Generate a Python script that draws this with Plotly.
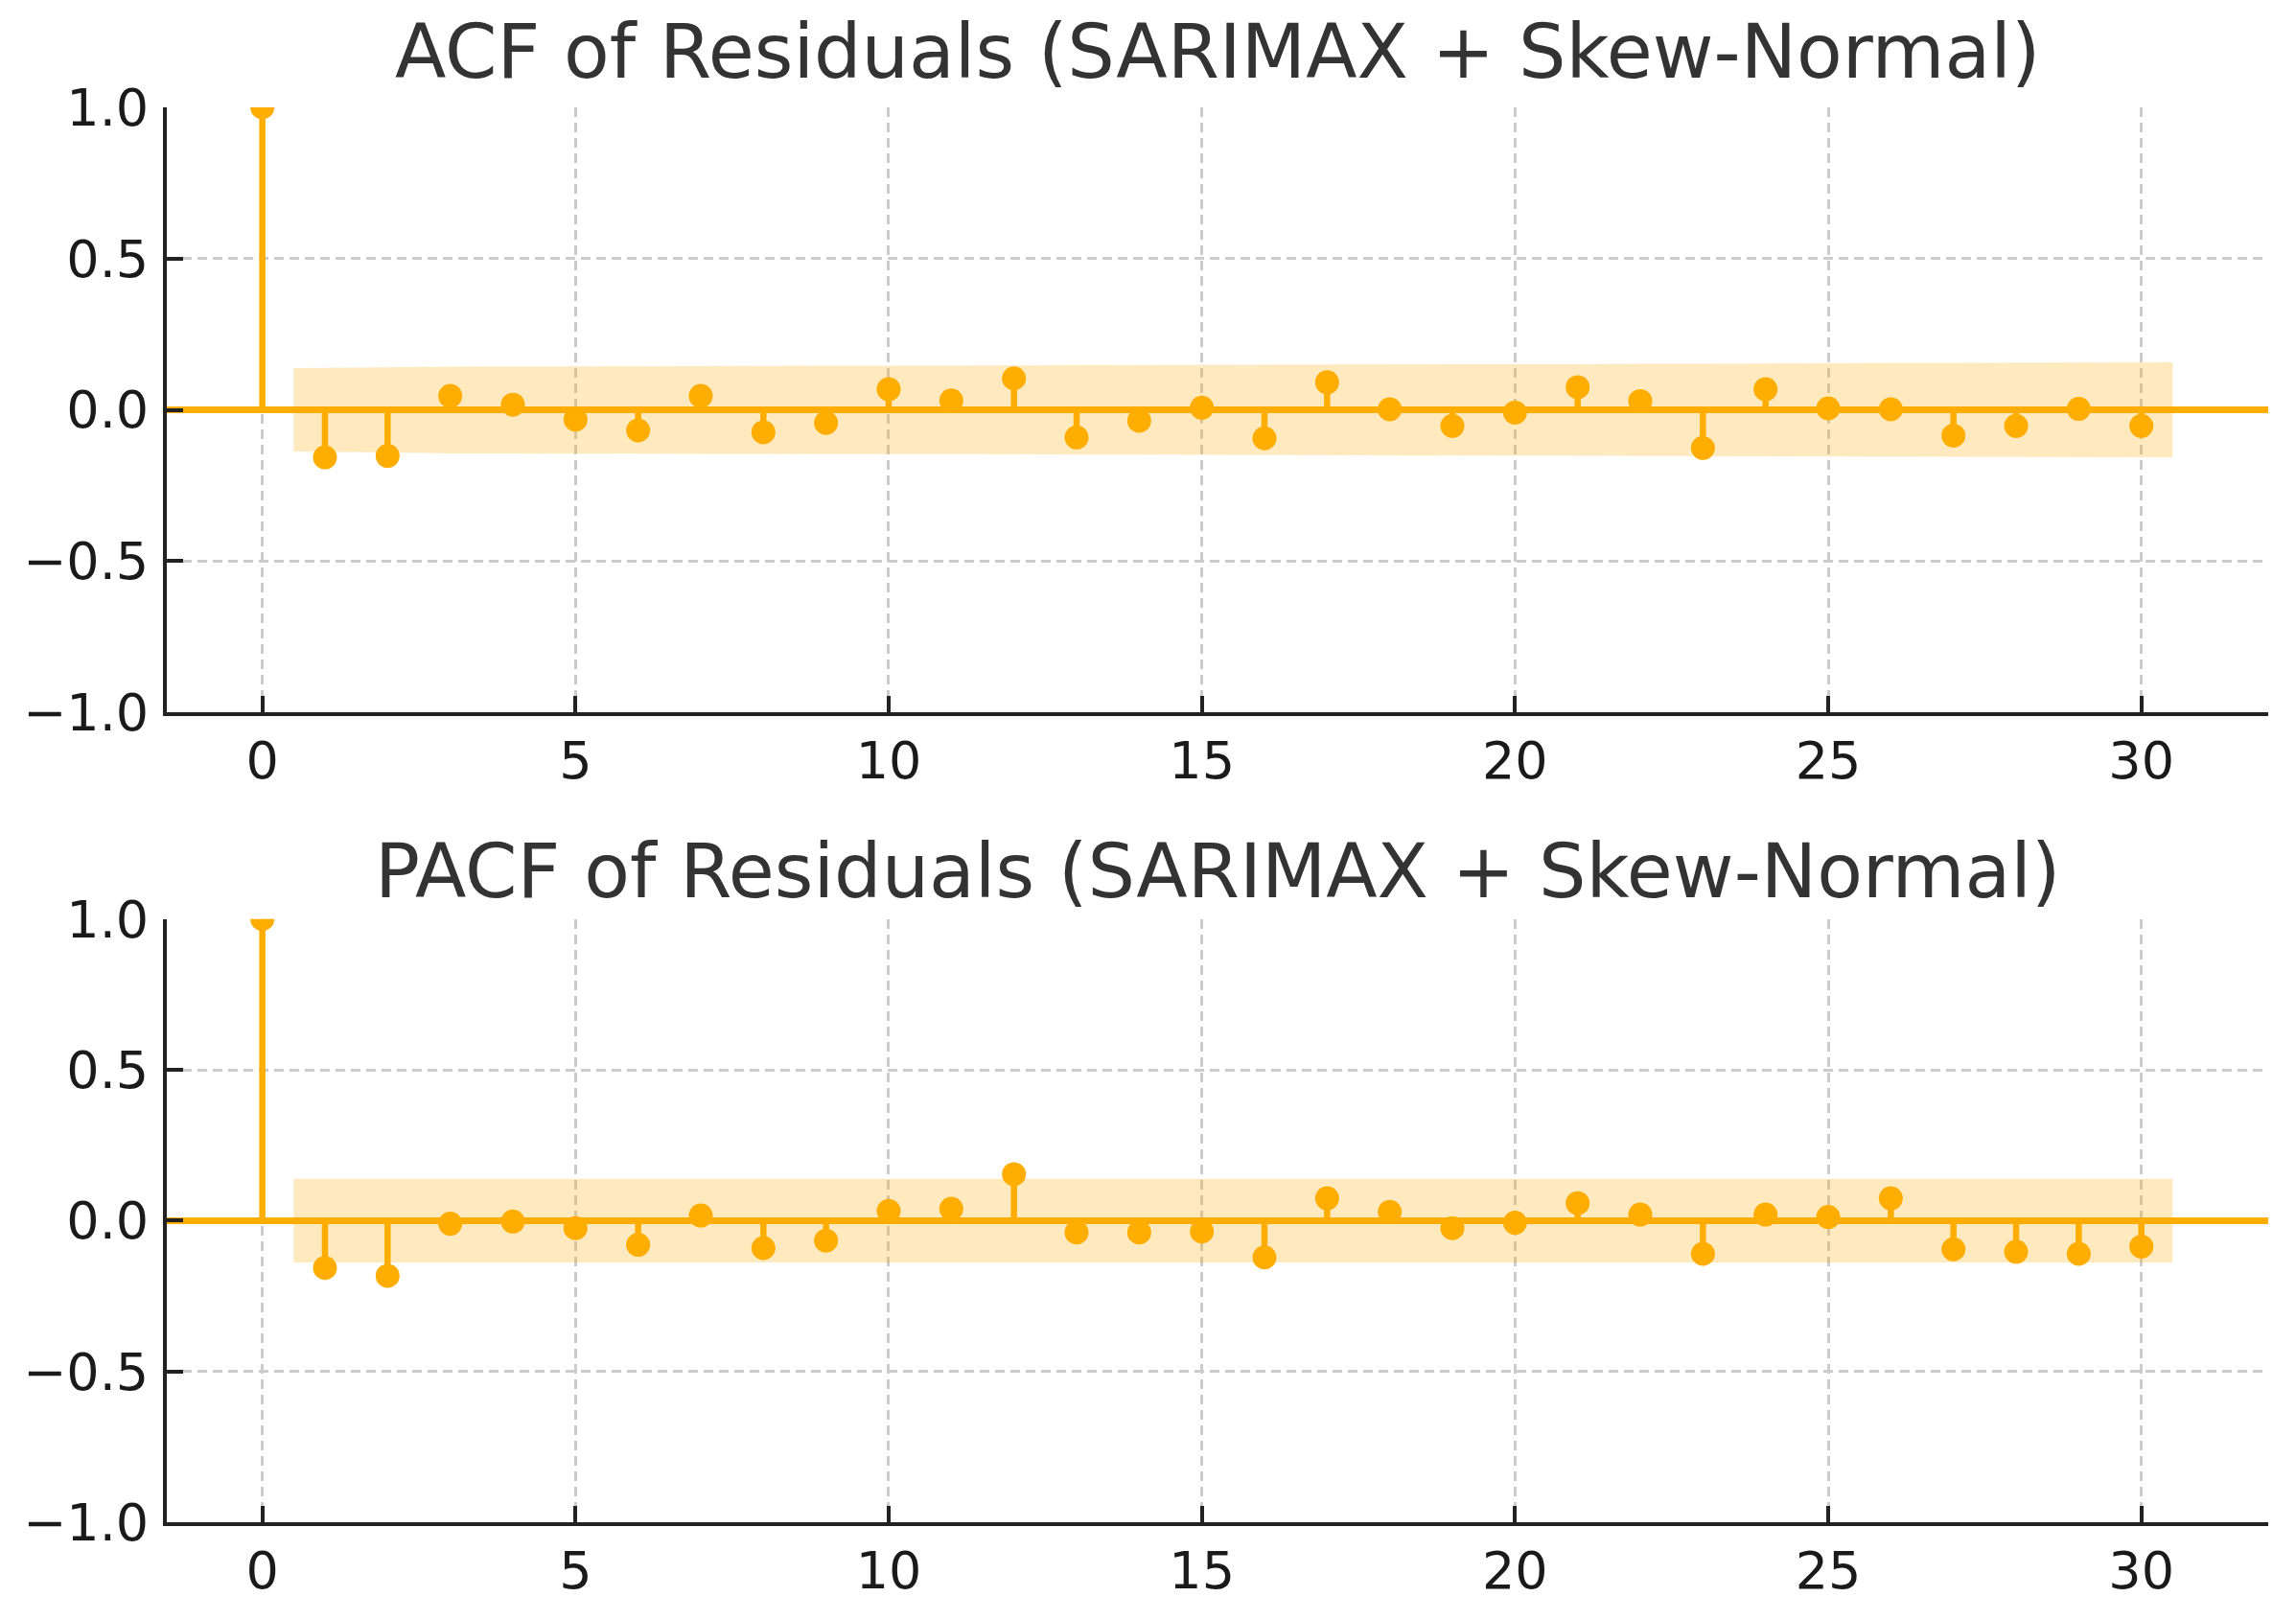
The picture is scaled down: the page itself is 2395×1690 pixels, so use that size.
import plotly.graph_objects as go

# lags 0..30, values
lags = list(range(31))

acf_vals = [1.0, -0.157, -0.152, 0.046, 0.017, -0.032, -0.068, 0.046, -0.074, -0.043,
            0.068, 0.031, 0.104, -0.091, -0.036, 0.007, -0.094, 0.091, 0.002, -0.053,
            -0.009, 0.075, 0.029, -0.126, 0.068, 0.005, 0.002, -0.085, -0.053, 0.003,
            -0.053]

# half width of the confidence band, lags 1..30
acf_band = [0.138, 0.141, 0.144, 0.144, 0.144, 0.145, 0.145, 0.145, 0.146, 0.146,
            0.146, 0.146, 0.148, 0.148, 0.149, 0.149, 0.150, 0.151, 0.151, 0.151,
            0.151, 0.152, 0.152, 0.154, 0.154, 0.155, 0.155, 0.156, 0.156, 0.157]

pacf_vals = [1.0, -0.157, -0.183, -0.010, -0.003, -0.025, -0.080, 0.017, -0.091, -0.066,
             0.032, 0.039, 0.154, -0.039, -0.039, -0.036, -0.122, 0.074, 0.029, -0.025,
             -0.007, 0.058, 0.020, -0.110, 0.020, 0.012, 0.074, -0.095, -0.103, -0.110,
             -0.086]

pacf_band = [0.139, 0.139, 0.139, 0.139, 0.139, 0.139, 0.139, 0.139, 0.139, 0.139,
             0.139, 0.139, 0.139, 0.139, 0.139, 0.139, 0.139, 0.139, 0.139, 0.139,
             0.139, 0.139, 0.139, 0.139, 0.139, 0.139, 0.139, 0.139, 0.139, 0.139]

titles = ["ACF of Residuals (SARIMAX + Skew-Normal)",
          "PACF of Residuals (SARIMAX + Skew-Normal)"]

x_ticks = [0, 5, 10, 15, 20, 25, 30]
y_ticks = [-1.0, -0.5, 0.0, 0.5, 1.0]
y_ticktext = ["\u22121.0", "\u22120.5", "0.0", "0.5", "1.0"]

ORANGE = "#FFAD00"
BAND = "rgba(255,173,0,0.25)"
FONT = "DejaVu Sans"


def add_corr(fig, vals, band, xa, ya):
    # band goes from lag 1 - 0.5 to lag 30 + 0.5, like statsmodels
    bx = [float(k) for k in lags[1:]]
    bx[0] -= 0.5
    bx[-1] += 0.5
    upper = band
    lower = [-b for b in band]
    fig.add_trace(go.Scatter(
        x=bx + bx[::-1], y=upper + lower[::-1],
        fill="toself", fillcolor=BAND, mode="lines", line=dict(width=0),
        hoverinfo="skip", showlegend=False, xaxis=xa, yaxis=ya))

    sx, sy = [], []
    for k, v in zip(lags, vals):
        sx += [k, k, None]
        sy += [0, v, None]
    fig.add_trace(go.Scatter(
        x=sx, y=sy, mode="lines", line=dict(color=ORANGE, width=6.5),
        hoverinfo="skip", showlegend=False, xaxis=xa, yaxis=ya))

    fig.add_trace(go.Scatter(
        x=lags, y=vals, mode="markers",
        marker=dict(color=ORANGE, size=25),
        showlegend=False, xaxis=xa, yaxis=ya))


fig = go.Figure()
add_corr(fig, acf_vals, acf_band, "x", "y")
add_corr(fig, pacf_vals, pacf_band, "x2", "y2")

xcommon = dict(
    range=[-1.525, 32.025], tickvals=x_ticks, zeroline=False,
    showgrid=True, gridcolor="#cccccc", gridwidth=2.5, griddash="10px,6px",
    showline=True, linecolor="#222222", linewidth=4,
    ticks="inside", ticklen=17, tickwidth=4, tickcolor="#222222",
    ticklabelstandoff=0,
    tickfont=dict(family=FONT, size=54, color="#1a1a1a"),
)
ycommon = dict(
    range=[-1, 1], tickvals=y_ticks, ticktext=y_ticktext,
    zeroline=True, zerolinecolor=ORANGE, zerolinewidth=6.5,
    showgrid=True, gridcolor="#cccccc", gridwidth=2.5, griddash="10px,6px",
    showline=True, linecolor="#222222", linewidth=4,
    ticks="inside", ticklen=17, tickwidth=4, tickcolor="#222222",
    ticklabelstandoff=4,
    tickfont=dict(family=FONT, size=54, color="#1a1a1a"),
)

# page body has an 8px margin, so the figure is a bit smaller than the window
fig.update_layout(
    width=2379, height=1674,
    margin=dict(l=166, r=21, t=104, b=85),
    paper_bgcolor="white", plot_bgcolor="white",
    xaxis=dict(anchor="y", **xcommon),
    yaxis=dict(domain=[0.5724, 1.0], anchor="x", **ycommon),
    xaxis2=dict(anchor="y2", **xcommon),
    yaxis2=dict(domain=[0.0, 0.4263], anchor="x2", **ycommon),
    annotations=[
        dict(text=titles[0], xref="paper", yref="paper", x=0.5, y=1.039,
             xanchor="center", yanchor="middle", showarrow=False,
             font=dict(family=FONT, size=78, color="#333333")),
        dict(text=titles[1], xref="paper", yref="paper", x=0.5, y=0.460,
             xanchor="center", yanchor="middle", showarrow=False,
             font=dict(family=FONT, size=78, color="#333333")),
    ],
)

fig.write_html("out.html")
